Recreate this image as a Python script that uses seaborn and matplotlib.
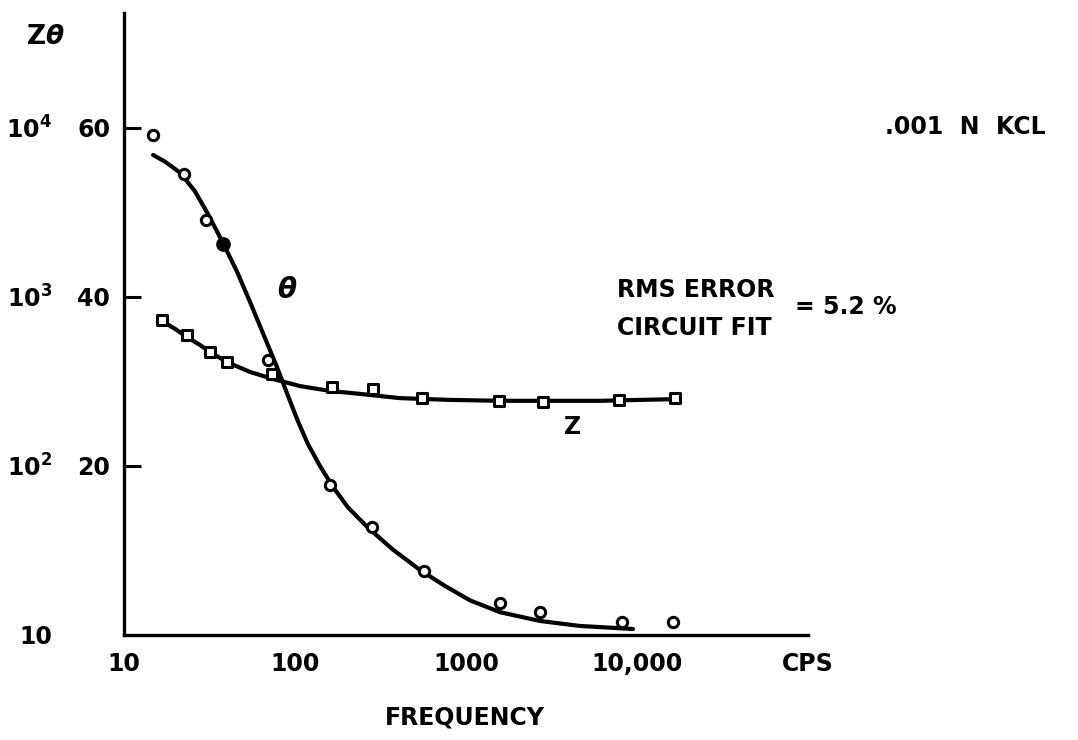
import matplotlib
matplotlib.use("Agg")
import matplotlib.pyplot as plt
import seaborn as sns
import pandas as pd

# measured phase angle points (degrees) vs frequency (cps)
theta_freq = [14.8, 22.4, 30.2, 37.9, 69.5, 160, 282, 567, 1580, 2710, 8200, 16300]
theta_deg = [59.2, 54.6, 49.1, 46.3, 32.5, 17.8, 12.8, 7.6, 3.8, 2.7, 1.5, 1.5]
theta_solid = [False, False, False, True, False, False, False, False, False, False, False, False]

# measured impedance points (ohms)
z_freq = [16.7, 23.5, 31.8, 40.0, 73.0, 164, 286, 553, 1560, 2820, 7850, 16700]
z_ohm = [731, 596, 473, 412, 352, 293, 286, 252, 243, 240, 246, 252]

# circuit fit curves
fit_theta_freq = [14.8, 17.4, 21.3, 26.0, 31.0, 37.9, 45.8, 54.6, 65.0, 77.4, 91.0, 104,
                  119, 140, 167, 204, 267, 374, 538, 754, 1055, 1580, 2710, 4645, 9480]
fit_theta_deg = [56.8, 56.0, 54.7, 52.5, 49.8, 46.4, 43.0, 39.4, 35.7, 32.0, 28.3, 25.3,
                 22.6, 20.0, 17.5, 15.1, 12.7, 10.1, 7.7, 5.8, 4.1, 2.7, 1.66, 1.07, 0.71]
fit_z_freq = [16.3, 19.9, 23.3, 27.8, 31.8, 40.0, 54.6, 74.3, 107, 160, 240, 411, 806,
              1580, 6080, 17800]
fit_z_ohm = [731, 647, 580, 520, 473, 412, 360, 327, 297, 278, 267, 252, 246,
             243, 243, 249]

x_ticks = [10, 100, 1000, 10000, 100000]
x_labels = ["10", "100", "1000", "10,000", "CPS"]
theta_ticks = [20, 40, 60]
z_ticks = [10, 100, 1000, 10000]
z_labels = ["10", "$\\mathbf{10^2}$", "$\\mathbf{10^3}$", "$\\mathbf{10^4}$"]

sns.set_theme(style="white")
plt.rcParams['font.family'] = ['DejaVu Sans Condensed', 'Liberation Sans Narrow', 'DejaVu Sans']
plt.rcParams['font.weight'] = 'bold'
plt.rcParams['text.color'] = 'black'
plt.rcParams['mathtext.fontset'] = 'dejavusans'

W, H = 1078, 740
fig = plt.figure(figsize=(W / 100, H / 100), dpi=100)
ax = fig.add_axes([124 / W, 1 - 635 / H, (808 - 124) / W, (635 - 13) / H])
ax.set_xscale('log')
ax.set_xlim(10, 1e5)
ax.set_ylim(0, 73.6)

# second scale for Z, log, labels drawn further left
ax2 = ax.twinx()
ax2.set_yscale('log')
ax2.set_ylim(10, 10 ** 4.68)

th = pd.DataFrame({"freq": theta_freq, "theta": theta_deg, "solid": theta_solid})
zz = pd.DataFrame({"freq": z_freq, "z": z_ohm})

sns.lineplot(x=fit_theta_freq, y=fit_theta_deg, color="black", lw=3, ax=ax, zorder=2)
sns.lineplot(x=fit_z_freq, y=fit_z_ohm, color="black", lw=3, ax=ax2, zorder=2)

sns.scatterplot(data=th[~th.solid], x="freq", y="theta", marker="o", s=55,
                color="white", edgecolor="black", linewidth=2.2, ax=ax, zorder=3)
sns.scatterplot(data=th[th.solid], x="freq", y="theta", marker="o", s=70,
                color="black", edgecolor="black", linewidth=2.2, ax=ax, zorder=3)
sns.scatterplot(data=zz, x="freq", y="z", marker="s", s=55,
                color="white", edgecolor="black", linewidth=2.2, ax=ax2, zorder=3)

for a in (ax, ax2):
    a.set_xlabel("")
    a.set_ylabel("")
    a.minorticks_off()
    a.patch.set_visible(False)

for s in ["top", "right"]:
    ax.spines[s].set_visible(False)
for s in ["left", "bottom"]:
    ax.spines[s].set_linewidth(2.4)
    ax.spines[s].set_color("black")
for s in ax2.spines.values():
    s.set_visible(False)

ax.set_xticks(x_ticks)
ax.set_xticklabels(x_labels)
ax.set_yticks(theta_ticks)
ax.set_yticklabels([str(t) for t in theta_ticks])
ax.tick_params(axis="both", direction="in", length=12, width=2.2, color="black",
               labelsize=17, labelcolor="black")
ax.tick_params(axis="x", pad=12)
ax.tick_params(axis="y", pad=10)
ax.tick_params(axis="x", which="minor", length=0)

ax2.yaxis.set_ticks_position("left")
ax2.set_yticks(z_ticks)
ax2.set_yticklabels(z_labels)
ax2.minorticks_off()
ax2.tick_params(axis="y", length=0, pad=52, labelsize=17, labelcolor="black")

fs = 17
fig.text(45 / W, 1 - 37 / H, "Z$\\theta$", fontsize=19, ha="center", va="center")
fig.text(465 / W, 1 - 718 / H, "FREQUENCY", fontsize=fs, ha="center", va="center")
fig.text(965 / W, 1 - 127 / H, ".001  N  KCL", fontsize=fs, ha="center", va="center")
fig.text(617 / W, 1 - 290 / H, "RMS ERROR", fontsize=fs, ha="left", va="center")
fig.text(617 / W, 1 - 328 / H, "CIRCUIT FIT", fontsize=fs, ha="left", va="center")
fig.text(795 / W, 1 - 307 / H, "= 5.2 %", fontsize=fs, ha="left", va="center")
fig.text(287 / W, 1 - 290 / H, "$\\theta$", fontsize=20, ha="center", va="center")
fig.text(573 / W, 1 - 427 / H, "Z", fontsize=fs, ha="center", va="center")

fig.savefig("out.png", dpi=100, facecolor="white")
